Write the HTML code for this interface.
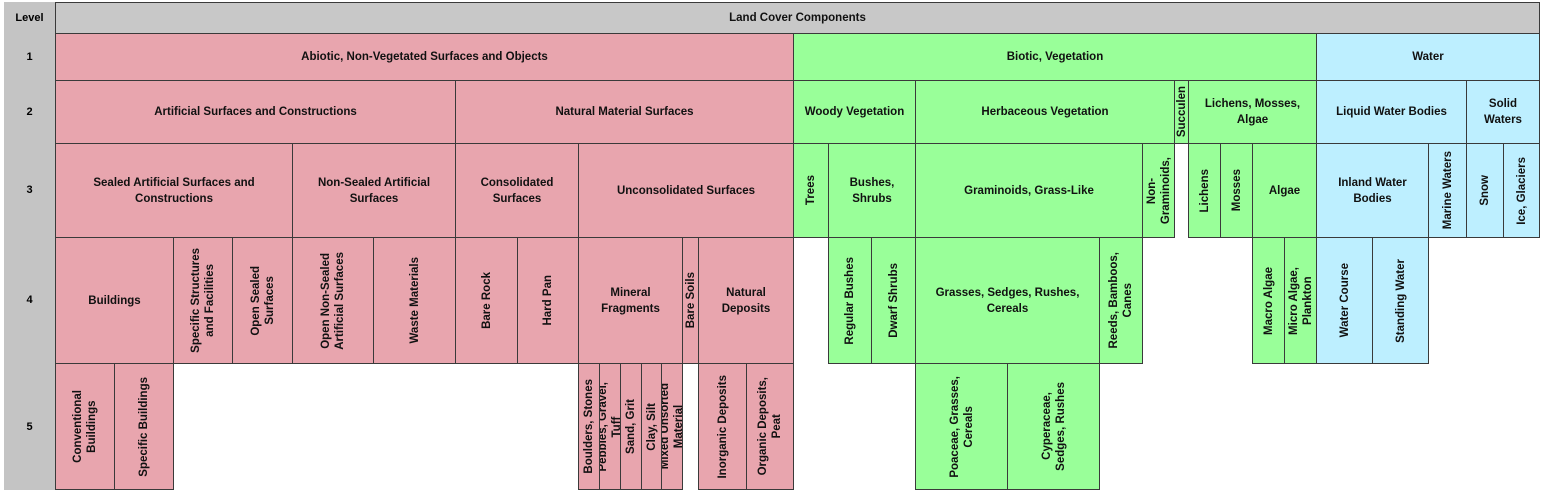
<!DOCTYPE html>
<html><head><meta charset="utf-8"><style>
body{margin:0;width:1542px;height:495px;background:#fff;position:relative;overflow:hidden;font-family:"Liberation Sans",Arial,sans-serif;font-weight:bold;font-size:11.5px;color:#111}
.c{position:absolute;box-sizing:border-box;border:1px solid #3a3a3a;display:flex;align-items:center;justify-content:center;text-align:center;line-height:16px;overflow:hidden}
.p{background:#e8a5ae}.g{background:#99ff99}.b{background:#bdefff}.h{background:#c8c8c8}
.v span{writing-mode:vertical-rl;transform:rotate(180deg);line-height:14px;white-space:nowrap}
.lv{position:absolute;left:4px;width:51px;background:#c4c4c4;display:flex;align-items:center;justify-content:center;font-size:11px;color:#000}
</style></head><body>
<div class="lv" style="top:2px;height:488px;border-right:2px solid #999;box-sizing:border-box"></div>
<div class="lv" style="top:2px;height:31px">Level</div>
<div class="lv" style="top:33px;height:47px">1</div>
<div class="lv" style="top:80px;height:63px">2</div>
<div class="lv" style="top:143px;height:94px">3</div>
<div class="lv" style="top:237px;height:126px">4</div>
<div class="lv" style="top:363px;height:127px">5</div>

<div class="c h" style="left:55px;top:2px;width:1485px;height:32px">Land Cover Components</div>
<div class="c p" style="left:55px;top:33px;width:739px;height:48px">Abiotic, Non-Vegetated Surfaces and Objects</div>
<div class="c g" style="left:793px;top:33px;width:524px;height:48px">Biotic, Vegetation</div>
<div class="c b" style="left:1316px;top:33px;width:224px;height:48px">Water</div>
<div class="c p" style="left:55px;top:80px;width:401px;height:64px">Artificial Surfaces and Constructions</div>
<div class="c p" style="left:455px;top:80px;width:339px;height:64px">Natural Material Surfaces</div>
<div class="c g" style="left:793px;top:80px;width:123px;height:64px">Woody Vegetation</div>
<div class="c g" style="left:915px;top:80px;width:260px;height:64px">Herbaceous Vegetation</div>
<div class="c g v" style="left:1174px;top:80px;width:15px;height:64px"><span>Succulen</span></div>
<div class="c g" style="left:1188px;top:80px;width:129px;height:64px">Lichens, Mosses,<br>Algae</div>
<div class="c b" style="left:1316px;top:80px;width:151px;height:64px">Liquid Water Bodies</div>
<div class="c b" style="left:1466px;top:80px;width:74px;height:64px">Solid<br>Waters</div>
<div class="c p" style="left:55px;top:143px;width:238px;height:95px">Sealed Artificial Surfaces and<br>Constructions</div>
<div class="c p" style="left:292px;top:143px;width:164px;height:95px">Non-Sealed Artificial<br>Surfaces</div>
<div class="c p" style="left:455px;top:143px;width:124px;height:95px">Consolidated<br>Surfaces</div>
<div class="c p" style="left:578px;top:143px;width:216px;height:95px">Unconsolidated Surfaces</div>
<div class="c g v" style="left:793px;top:143px;width:36px;height:95px"><span>Trees</span></div>
<div class="c g" style="left:828px;top:143px;width:88px;height:95px">Bushes,<br>Shrubs</div>
<div class="c g" style="left:915px;top:143px;width:228px;height:95px">Graminoids, Grass-Like</div>
<div class="c g v" style="left:1142px;top:143px;width:33px;height:95px"><span>Non-<br>Graminoids,</span></div>
<div class="c g v" style="left:1188px;top:143px;width:33px;height:95px"><span>Lichens</span></div>
<div class="c g v" style="left:1220px;top:143px;width:33px;height:95px"><span>Mosses</span></div>
<div class="c g" style="left:1252px;top:143px;width:65px;height:95px">Algae</div>
<div class="c b" style="left:1316px;top:143px;width:113px;height:95px">Inland Water<br>Bodies</div>
<div class="c b v" style="left:1428px;top:143px;width:39px;height:95px"><span>Marine Waters</span></div>
<div class="c b v" style="left:1466px;top:143px;width:38px;height:95px"><span>Snow</span></div>
<div class="c b v" style="left:1503px;top:143px;width:37px;height:95px"><span>Ice, Glaciers</span></div>
<div class="c p" style="left:55px;top:237px;width:119px;height:127px">Buildings</div>
<div class="c p v" style="left:173px;top:237px;width:60px;height:127px"><span>Specific Structures<br>and Facilities</span></div>
<div class="c p v" style="left:232px;top:237px;width:61px;height:127px"><span>Open Sealed<br>Surfaces</span></div>
<div class="c p v" style="left:292px;top:237px;width:82px;height:127px"><span>Open Non-Sealed<br>Artificial Surfaces</span></div>
<div class="c p v" style="left:373px;top:237px;width:83px;height:127px"><span>Waste Materials</span></div>
<div class="c p v" style="left:455px;top:237px;width:63px;height:127px"><span>Bare Rock</span></div>
<div class="c p v" style="left:517px;top:237px;width:62px;height:127px"><span>Hard Pan</span></div>
<div class="c p" style="left:578px;top:237px;width:105px;height:127px">Mineral<br>Fragments</div>
<div class="c p v" style="left:682px;top:237px;width:17px;height:127px"><span>Bare Soils</span></div>
<div class="c p" style="left:698px;top:237px;width:96px;height:127px">Natural<br>Deposits</div>
<div class="c g v" style="left:828px;top:237px;width:44px;height:127px"><span>Regular Bushes</span></div>
<div class="c g v" style="left:871px;top:237px;width:45px;height:127px"><span>Dwarf Shrubs</span></div>
<div class="c g" style="left:915px;top:237px;width:185px;height:127px">Grasses, Sedges, Rushes,<br>Cereals</div>
<div class="c g v" style="left:1099px;top:237px;width:44px;height:127px"><span>Reeds, Bamboos,<br>Canes</span></div>
<div class="c g v" style="left:1252px;top:237px;width:33px;height:127px"><span>Macro Algae</span></div>
<div class="c g v" style="left:1284px;top:237px;width:33px;height:127px"><span>Micro Algae,<br>Plankton</span></div>
<div class="c b v" style="left:1316px;top:237px;width:57px;height:127px"><span>Water Course</span></div>
<div class="c b v" style="left:1372px;top:237px;width:57px;height:127px"><span>Standing Water</span></div>
<div class="c p v" style="left:55px;top:363px;width:60px;height:127px"><span>Conventional<br>Buildings</span></div>
<div class="c p v" style="left:114px;top:363px;width:60px;height:127px"><span>Specific Buildings</span></div>
<div class="c p v" style="left:578px;top:363px;width:22px;height:127px"><span>Boulders, Stones</span></div>
<div class="c p v" style="left:599px;top:363px;width:22px;height:127px"><span>Pebbles, Gravel,<br>Tuff</span></div>
<div class="c p v" style="left:620px;top:363px;width:22px;height:127px"><span>Sand, Grit</span></div>
<div class="c p v" style="left:641px;top:363px;width:21px;height:127px"><span>Clay, Silt</span></div>
<div class="c p v" style="left:661px;top:363px;width:22px;height:127px"><span>Mixed Unsorted<br>Material</span></div>
<div class="c p v" style="left:698px;top:363px;width:49px;height:127px"><span>Inorganic Deposits</span></div>
<div class="c p v" style="left:746px;top:363px;width:48px;height:127px"><span>Organic Deposits,<br>Peat</span></div>
<div class="c g v" style="left:915px;top:363px;width:93px;height:127px"><span>Poaceae, Grasses,<br>Cereals</span></div>
<div class="c g v" style="left:1007px;top:363px;width:93px;height:127px"><span>Cyperaceae,<br>Sedges, Rushes</span></div>
</body></html>
